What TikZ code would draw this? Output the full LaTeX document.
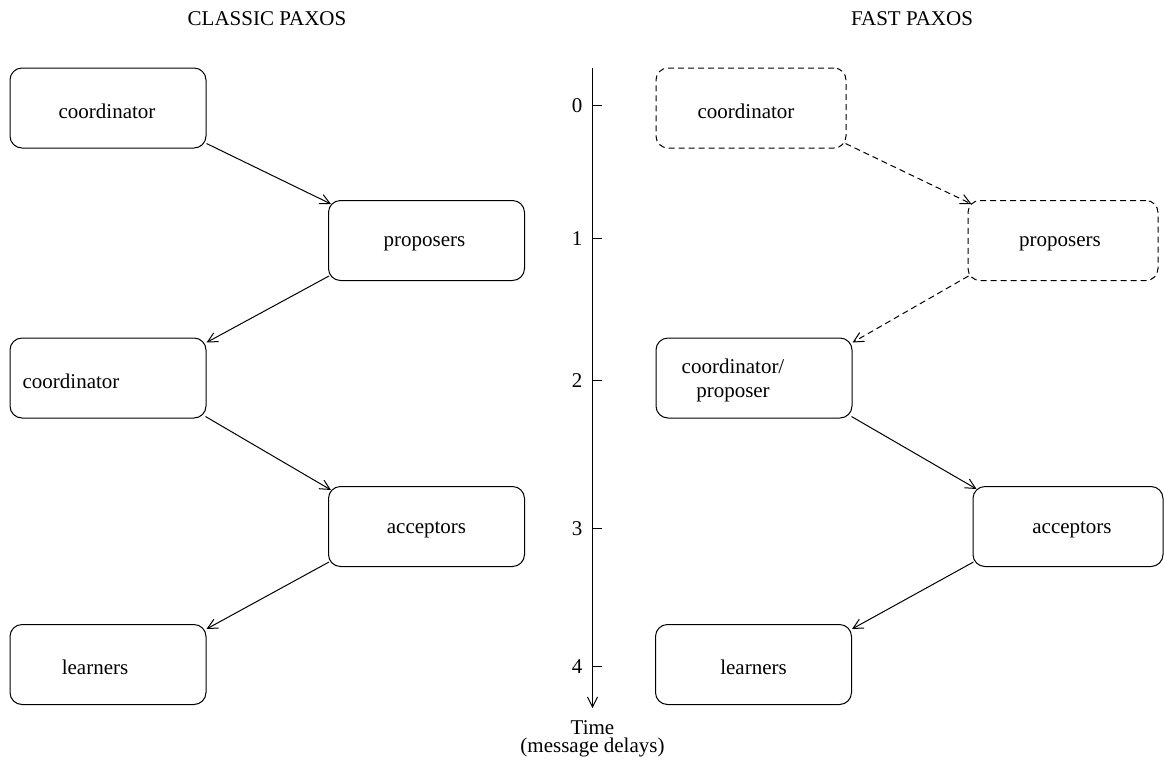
\documentclass[tikz,border=0pt]{standalone}
\usepackage{fontspec}
\setmainfont{Liberation Serif}
\usetikzlibrary{arrows.meta,calc}
\tikzset{
  box/.style={draw, line width=0.5pt, rounded corners=6pt, minimum height=40pt, inner sep=0pt},
  wbox/.style={box, minimum width=98pt},
  nbox/.style={box, minimum width=95pt},
  dbox/.style={box, dash pattern=on 3pt off 2pt},
  lbl/.style={font=\fontsize{10.5pt}{12pt}\selectfont, align=center, inner sep=0pt},
  blbl/.style={lbl, yshift=-1.5pt},
  arr/.style={line width=0.5pt, -{Straight Barb[length=5pt,width=5pt,line width=0.5pt]}},
  darr/.style={arr, dash pattern=on 3pt off 2pt},
  tick/.style={line width=0.5pt}
}
\begin{document}
\begin{tikzpicture}[x=0.5pt,y=-0.5pt]
\useasboundingbox (0,0) rectangle (1164,762);
% titles
\node[lbl] (t1) at (267,19) {CLASSIC PAXOS};
\node[lbl] (t2) at (912,19) {FAST PAXOS};
% classic
\node[wbox, label={[blbl,xshift=-0.5pt]center:coordinator}] (c1) at (108,108) {};
\node[wbox, label={[blbl,xshift=-1pt]center:proposers}] (p1) at (426.5,240.5) {};
\node[wbox, label={[blbl,xshift=-18.5pt]center:coordinator}] (c2) at (108,378) {};
\node[wbox, label={[blbl]center:acceptors}] (a1) at (426.5,526.5) {};
\node[wbox, label={[blbl,xshift=-6.5pt]center:learners}] (l1) at (108,664.5) {};
\draw[arr] ($(c1.south east)+(0,-5)$) -- ($(p1.north west)+(3,4)$);
\draw[arr] ($(p1.south west)+(1,-5)$) -- ($(c2.north east)+(0,5)$);
\draw[arr] ($(c2.south east)+(-1,-2)$) -- ($(a1.north west)+(3,4)$);
\draw[arr] ($(a1.south west)+(1,-5)$) -- ($(l1.north east)+(0,5)$);
% time axis
\coordinate (ax0) at (592.5,68);
\coordinate (ax1) at (592.5,708);
\draw[arr] (ax0) -- (ax1);
\foreach \v/\y in {0/105,1/238,2/380,3/528,4/666}{
  \draw[tick] (592.5,\y) -- (602,\y);
  \node[lbl] (n\v) at (577,\y+1) {\v};
}
\node[lbl, font=\fontsize{10.5pt}{9pt}\selectfont, anchor=north] (tm) at (592.5,720) {Time\\(message delays)};
% fast
\node[nbox, dbox, label={[blbl,xshift=-2.5pt]center:coordinator}] (rc1) at (751,108) {};
\node[nbox, dbox, label={[blbl,xshift=-1.5pt]center:proposers}] (rp) at (1063,240.5) {};
\node[wbox, label={[lbl,xshift=-10.5pt,yshift=-1pt]center:{coordinator/\\proposer}}] (rcp) at (754,378) {};
\node[nbox, label={[blbl,xshift=2pt]center:acceptors}] (ra) at (1068,526.5) {};
\node[wbox, label={[blbl]center:learners}] (rl) at (753.5,664.5) {};
\draw[darr] ($(rc1.south east)+(-1,-5)$) -- ($(rp.north west)+(4,4)$);
\draw[darr] ($(rp.south west)+(1,-5)$) -- ($(rcp.north east)+(0,5)$);
\draw[arr] ($(rcp.south east)+(-1,-2)$) -- ($(ra.north west)+(4,3)$);
\draw[arr] ($(ra.south west)+(1,-5)$) -- ($(rl.north east)+(0,5)$);
\end{tikzpicture}
\end{document}
